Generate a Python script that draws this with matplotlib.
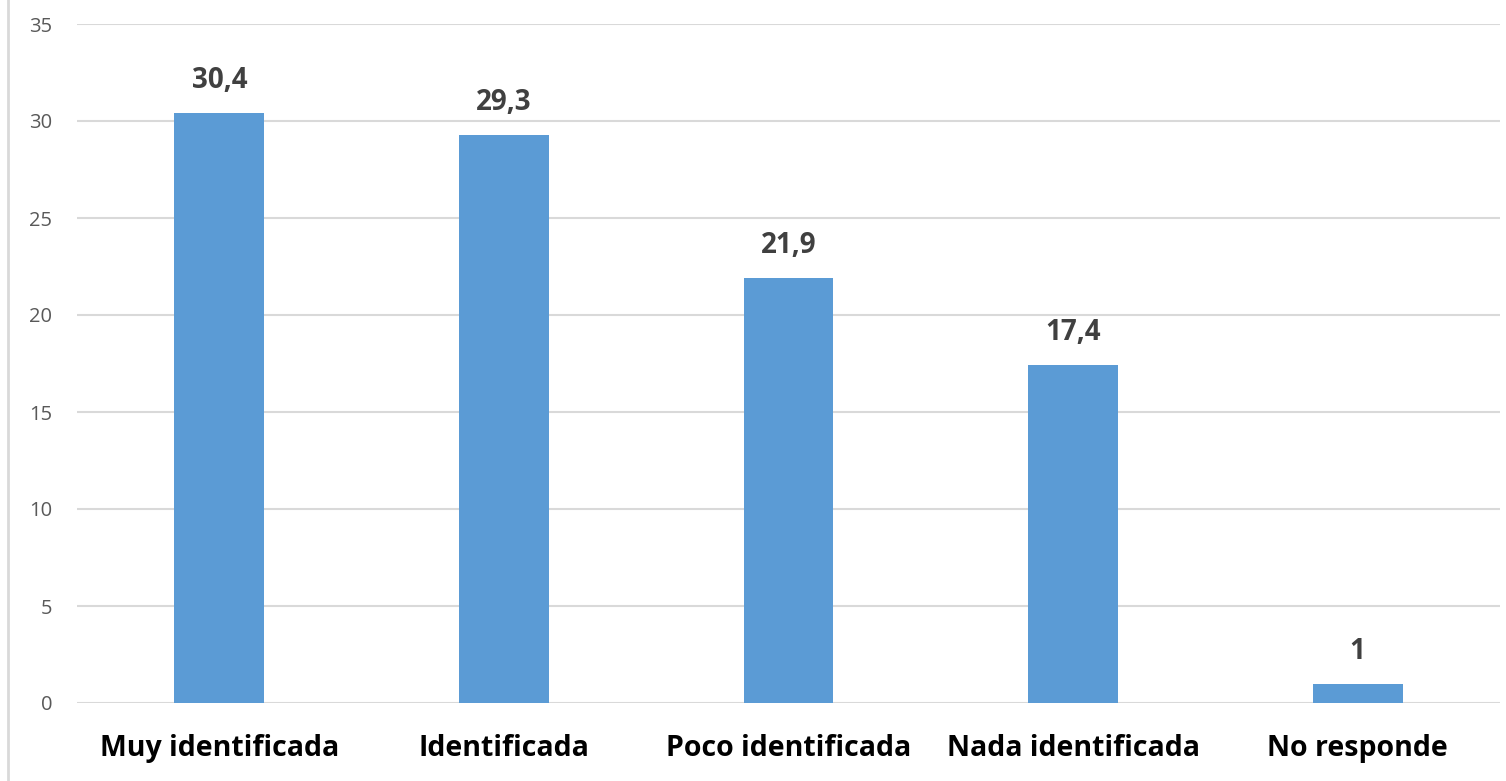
import matplotlib
matplotlib.use("Agg")
import matplotlib.pyplot as plt
from matplotlib.lines import Line2D

categories = ["Muy identificada", "Identificada", "Poco identificada", "Nada identificada", "No responde"]
values = [30.4, 29.3, 21.9, 17.4, 1]
value_labels = ["30,4", "29,3", "21,9", "17,4", "1"]
yticks = [0, 5, 10, 15, 20, 25, 30, 35]

plt.rcParams['font.family'] = ['Open Sans', 'DejaVu Sans']

fig = plt.figure(figsize=(15.06, 7.81), dpi=100)
ax = fig.add_axes([77/1506, 1-703/781, (1500-77)/1506, (703-24)/781])

x = list(range(len(categories)))
bars = ax.bar(x, values, width=0.316, color="#5b9bd5", zorder=3)
ax.set_xlim(-0.5, len(categories)-0.5)
ax.set_ylim(0, 35)
ax.set_yticks(yticks)
ax.set_yticklabels([str(t) for t in yticks], color="#595959", fontsize=14.5)
ax.set_xticks(x)
ax.set_xticklabels(categories, fontsize=20.5, fontweight="bold", color="#000000")
ax.tick_params(axis='both', length=0)
ax.tick_params(axis='y', pad=18)
ax.tick_params(axis='x', pad=22)
ax.grid(axis='y', color="#d9d9d9", linewidth=1.5, zorder=0)
for s in ax.spines.values():
    s.set_visible(False)

for xi, v, lab in zip(x, values, value_labels):
    ax.annotate(lab, (xi, v), xytext=(0, 13), textcoords="offset points",
                ha="center", va="bottom", fontsize=20, fontweight="bold", color="#404040")

fig.add_artist(Line2D([7.5/1506, 7.5/1506], [0, 1], transform=fig.transFigure,
                      color="#d9d9d9", linewidth=2))

fig.savefig("out.png", dpi=100)
